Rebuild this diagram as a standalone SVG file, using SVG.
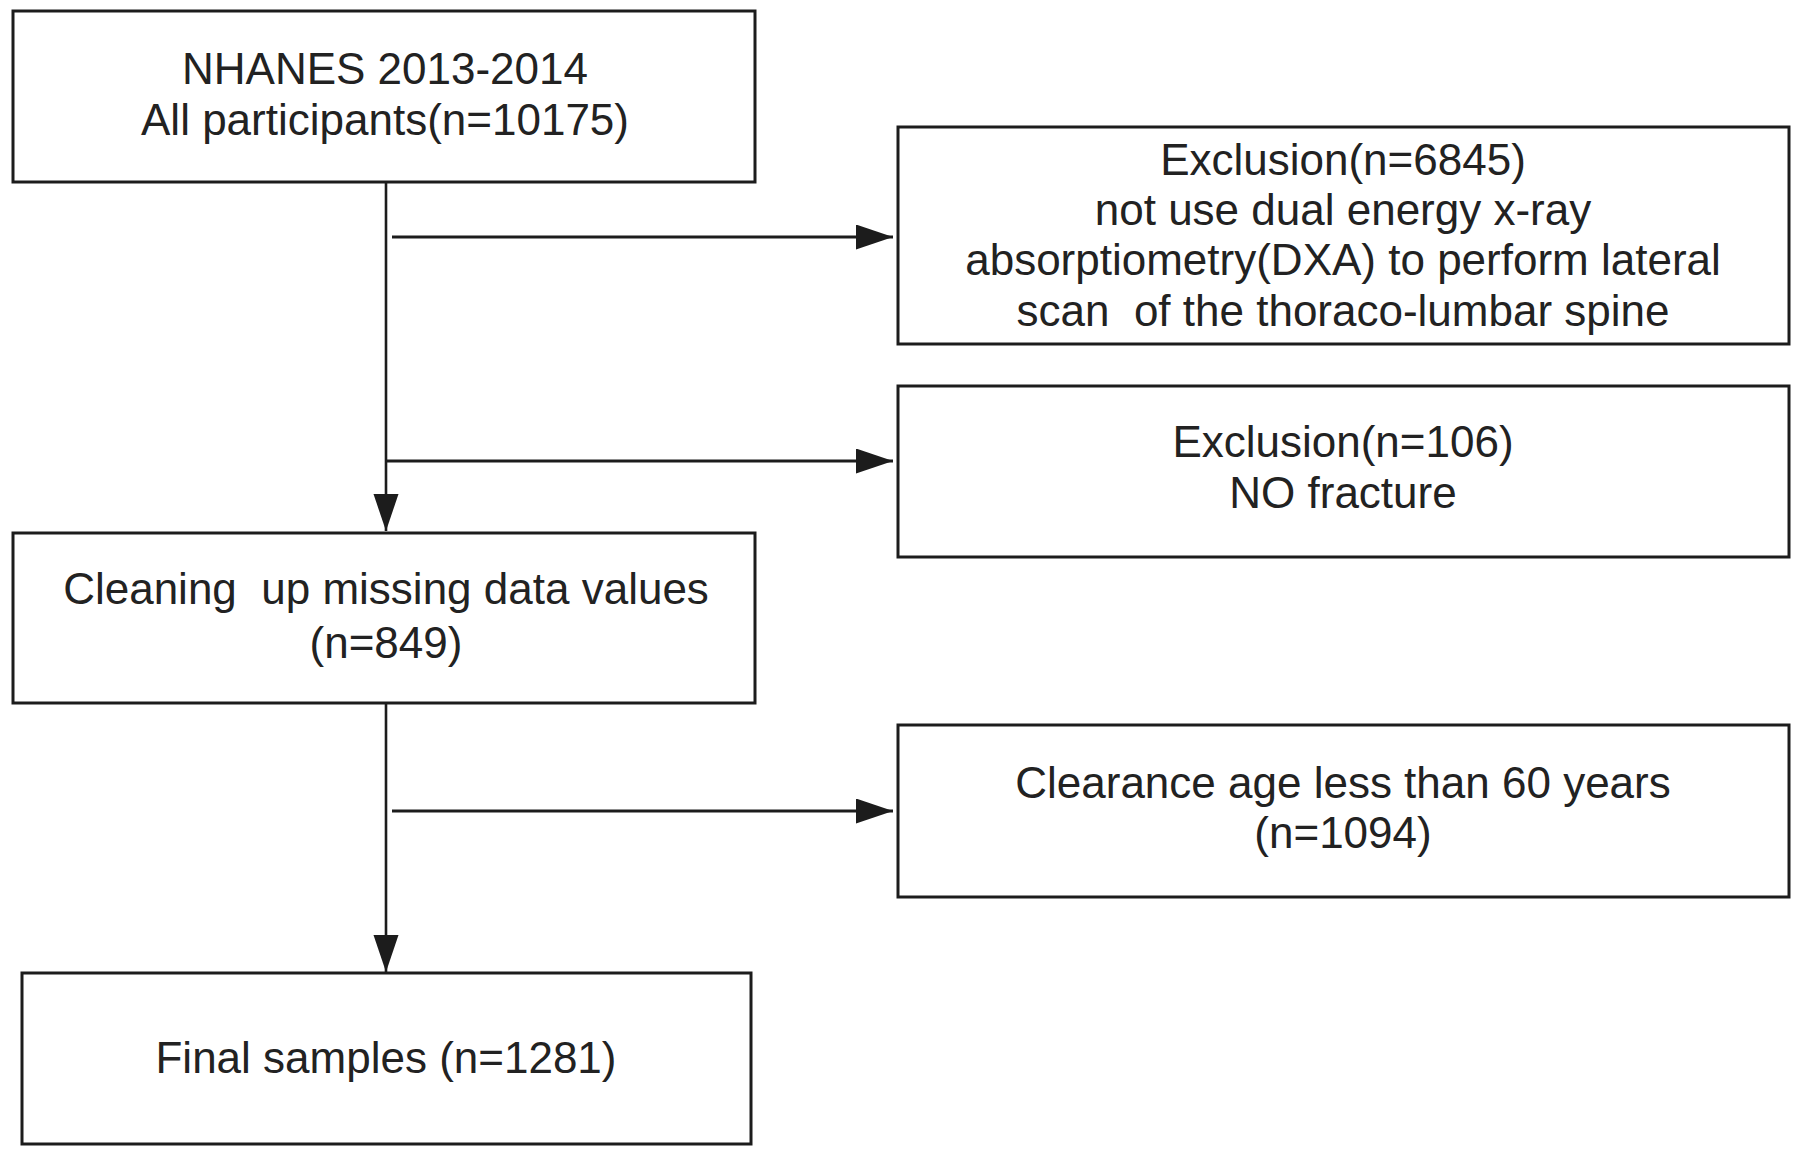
<svg xmlns="http://www.w3.org/2000/svg" width="1800" height="1155" viewBox="0 0 1800 1155">
<style>
.box{fill:#fff;stroke:#1c1c1c;stroke-width:3}
.t{font-family:"Liberation Sans",Arial,sans-serif;font-size:44px;fill:#222;text-anchor:middle}
.c{fill:none;stroke:#1c1c1c;stroke-width:2.6}
.h{stroke-width:3}
</style>
<defs>
<marker id="ah" markerUnits="userSpaceOnUse" markerWidth="38" markerHeight="26" refX="37" refY="12.5" orient="auto">
<path d="M0,0 L37,12.5 L0,25 z" fill="#1c1c1c"/>
</marker>
</defs>
<rect width="1800" height="1155" fill="#fff"/>
<g id="connectors">
<line class="c" x1="386" y1="182" x2="386" y2="531" marker-end="url(#ah)"/>
<line class="c" x1="386" y1="703" x2="386" y2="972" marker-end="url(#ah)"/>
<line class="c h" x1="392" y1="237" x2="893" y2="237" marker-end="url(#ah)"/>
<line class="c h" x1="386" y1="461" x2="893" y2="461" marker-end="url(#ah)"/>
<line class="c h" x1="392" y1="811" x2="893" y2="811" marker-end="url(#ah)"/>
</g>
<g id="n1">
<rect class="box" x="13" y="11" width="742" height="171"/>
<text class="t" x="385" y="84">NHANES 2013-2014</text>
<text class="t" x="385" y="135">All participants(n=10175)</text>
</g>
<g id="n2">
<rect class="box" x="898" y="127" width="891" height="217"/>
<text class="t" x="1343" y="175">Exclusion(n=6845)</text>
<text class="t" x="1343" y="225">not use dual energy x-ray</text>
<text class="t" x="1343" y="275">absorptiometry(DXA) to perform lateral</text>
<text class="t" x="1343" y="326" xml:space="preserve">scan  of the thoraco-lumbar spine</text>
</g>
<g id="n3">
<rect class="box" x="898" y="386" width="891" height="171"/>
<text class="t" x="1343" y="457">Exclusion(n=106)</text>
<text class="t" x="1343" y="508">NO fracture</text>
</g>
<g id="n4">
<rect class="box" x="13" y="533" width="742" height="170"/>
<text class="t" x="386" y="604" xml:space="preserve">Cleaning  up missing data values</text>
<text class="t" x="386" y="658">(n=849)</text>
</g>
<g id="n5">
<rect class="box" x="898" y="725" width="891" height="172"/>
<text class="t" x="1343" y="798">Clearance age less than 60 years</text>
<text class="t" x="1343" y="848">(n=1094)</text>
</g>
<g id="n6">
<rect class="box" x="22" y="973" width="729" height="171"/>
<text class="t" x="386" y="1073">Final samples (n=1281)</text>
</g>
</svg>
